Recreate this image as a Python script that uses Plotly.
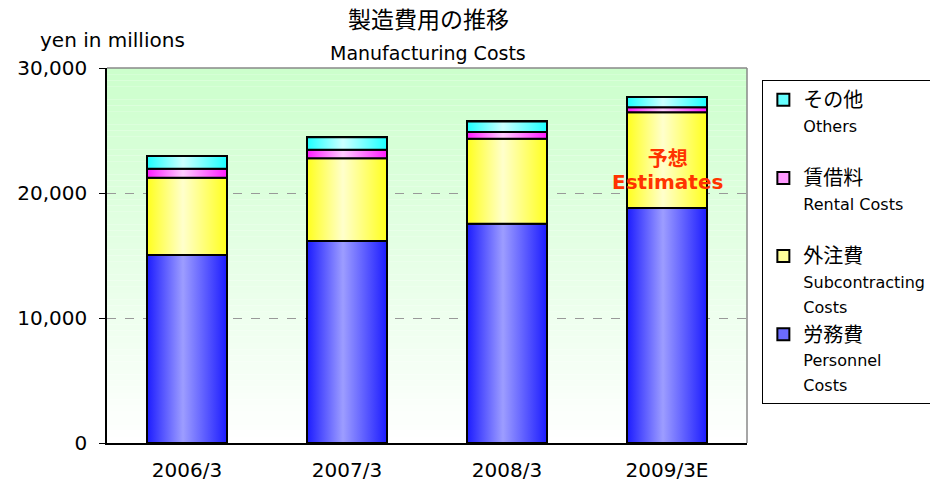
import plotly.graph_objects as go

# ---------------- data ----------------
categories = ["2006/3", "2007/3", "2008/3", "2009/3E"]
personnel = [15040, 16160, 17550, 18800]
subcontracting = [6180, 6620, 6800, 7660]
rental = [720, 680, 530, 400]
others = [1020, 1000, 850, 820]

names_ja = ["労務費", "外注費", "賃借料", "その他"]
names_en = ["Personnel<br>Costs", "Subcontracting<br>Costs", "Rental Costs<br> ", "Others<br> "]
y_tick_vals = [0, 10000, 20000, 30000]
y_tick_text = ["0", "10,000", "20,000", "30,000"]

# ---------------- styles ----------------
FONT = "DejaVu Sans, Noto Sans CJK JP"
series = [personnel, subcontracting, rental, others]
dark = ["#1c1cff", "#ffff1c", "#ff1cff", "#1cffff"]
light = ["#9d9dff", "#ffffcc", "#ffccff", "#ccffff"]
icon = ["#6b6bff", "#ffff99", "#ff99ff", "#66ffff"]
ranks = [4, 3, 2, 1]
BAR_W = 0.5

fig = go.Figure()
x_idx = list(range(len(categories)))
base = [0] * len(categories)

for k, vals in enumerate(series):
    label = (f"<span style='font-size:20px;font-family:Noto Sans CJK JP'>{names_ja[k]}</span><br>"
             f"<span style='font-size:16px'>{names_en[k]}</span>")
    fig.add_bar(
        x=x_idx, y=vals, width=BAR_W, name=label, legendgroup=f"g{k}",
        legendrank=ranks[k],
        marker=dict(color=icon[k], line=dict(color="black", width=2)),
        hoverinfo="skip",
    )
    for i, v in enumerate(vals):
        x0, x1 = i - BAR_W / 2, i + BAR_W / 2
        y0, y1 = base[i], base[i] + v
        fig.add_scatter(
            x=[x0, x1, x1, x0, x0], y=[y0, y0, y1, y1, y0],
            mode="lines", fill="toself",
            fillgradient=dict(type="horizontal",
                              colorscale=[[0, dark[k]], [0.45, light[k]], [1, dark[k]]]),
            line=dict(color="black", width=2),
            showlegend=False, hoverinfo="skip",
        )
        base[i] = y1

# background gradient (light green top -> white bottom)
shapes = []
N = 60
for j in range(N):
    f = j / (N - 1)  # 0 at bottom, 1 at top
    r = int(round(255 - 51 * f))
    shapes.append(dict(type="rect", xref="paper", yref="paper",
                       x0=0, x1=1, y0=j / N, y1=(j + 1) / N,
                       fillcolor=f"rgb({r},255,{r})", line=dict(width=0),
                       layer="below"))
# top & right frame lines
shapes.append(dict(type="line", xref="paper", yref="paper", x0=0, x1=1, y0=1, y1=1,
                   line=dict(color="#888888", width=1.5), layer="above"))
shapes.append(dict(type="line", xref="paper", yref="paper", x0=1, x1=1, y0=0, y1=1,
                   line=dict(color="#888888", width=1.5), layer="above"))

fig.update_layout(
    width=930, height=486,
    margin=dict(l=107, r=183, t=68, b=43, autoexpand=False),
    paper_bgcolor="white", plot_bgcolor="white",
    barmode="stack", bargap=0.5,
    font=dict(family=FONT, color="black"),
    shapes=shapes,
    showlegend=True,
    legend=dict(
        x=1.024, y=0.968, xanchor="left", yanchor="top",
        bordercolor="black", borderwidth=1, bgcolor="white",
        font=dict(family=FONT, size=19, color="black"),
        traceorder="grouped", tracegroupgap=1,
        valign="top", itemwidth=30,
    ),
    xaxis=dict(
        range=[-0.5, 3.5], tickvals=x_idx, ticktext=categories,
        showgrid=False, zeroline=False, showline=True,
        linecolor="black", linewidth=2, ticks="",
        tickfont=dict(family=FONT, size=20), ticklabelstandoff=8,
    ),
    yaxis=dict(
        range=[0, 30000], tickvals=y_tick_vals, ticktext=y_tick_text,
        showgrid=True, gridcolor="#999999", griddash="dash", gridwidth=1,
        zeroline=False, showline=True, linecolor="black", linewidth=1.5,
        ticks="outside", ticklen=6, tickcolor="black",
        tickfont=dict(family=FONT, size=20), ticklabelstandoff=8,
    ),
    annotations=[
        dict(text="製造費用の推移", xref="paper", yref="paper", x=0.502, y=1.133,
             xanchor="center", yanchor="middle", showarrow=False,
             font=dict(family="Noto Sans CJK JP", size=23)),
        dict(text="Manufacturing Costs", xref="paper", yref="paper", x=0.502, y=1.04,
             xanchor="center", yanchor="middle", showarrow=False,
             font=dict(family=FONT, size=19)),
        dict(text="yen in millions", xref="paper", yref="paper", x=0.008, y=1.075,
             xanchor="center", yanchor="middle", showarrow=False,
             font=dict(family=FONT, size=20)),
        dict(text=("<b><span style='font-size:20px;font-family:Noto Sans CJK JP'>予想</span></b><br>"
                   "<b><span style='font-size:20px'>Estimates</span></b>"),
             xref="x", yref="y", x=3, y=22000,
             xanchor="center", yanchor="middle", showarrow=False,
             font=dict(family=FONT, size=18, color="#ff3300")),
    ],
)

fig.write_html("out.html", config={"displayModeBar": False},
               post_script="document.body.style.margin='0';document.body.style.overflow='hidden';")
